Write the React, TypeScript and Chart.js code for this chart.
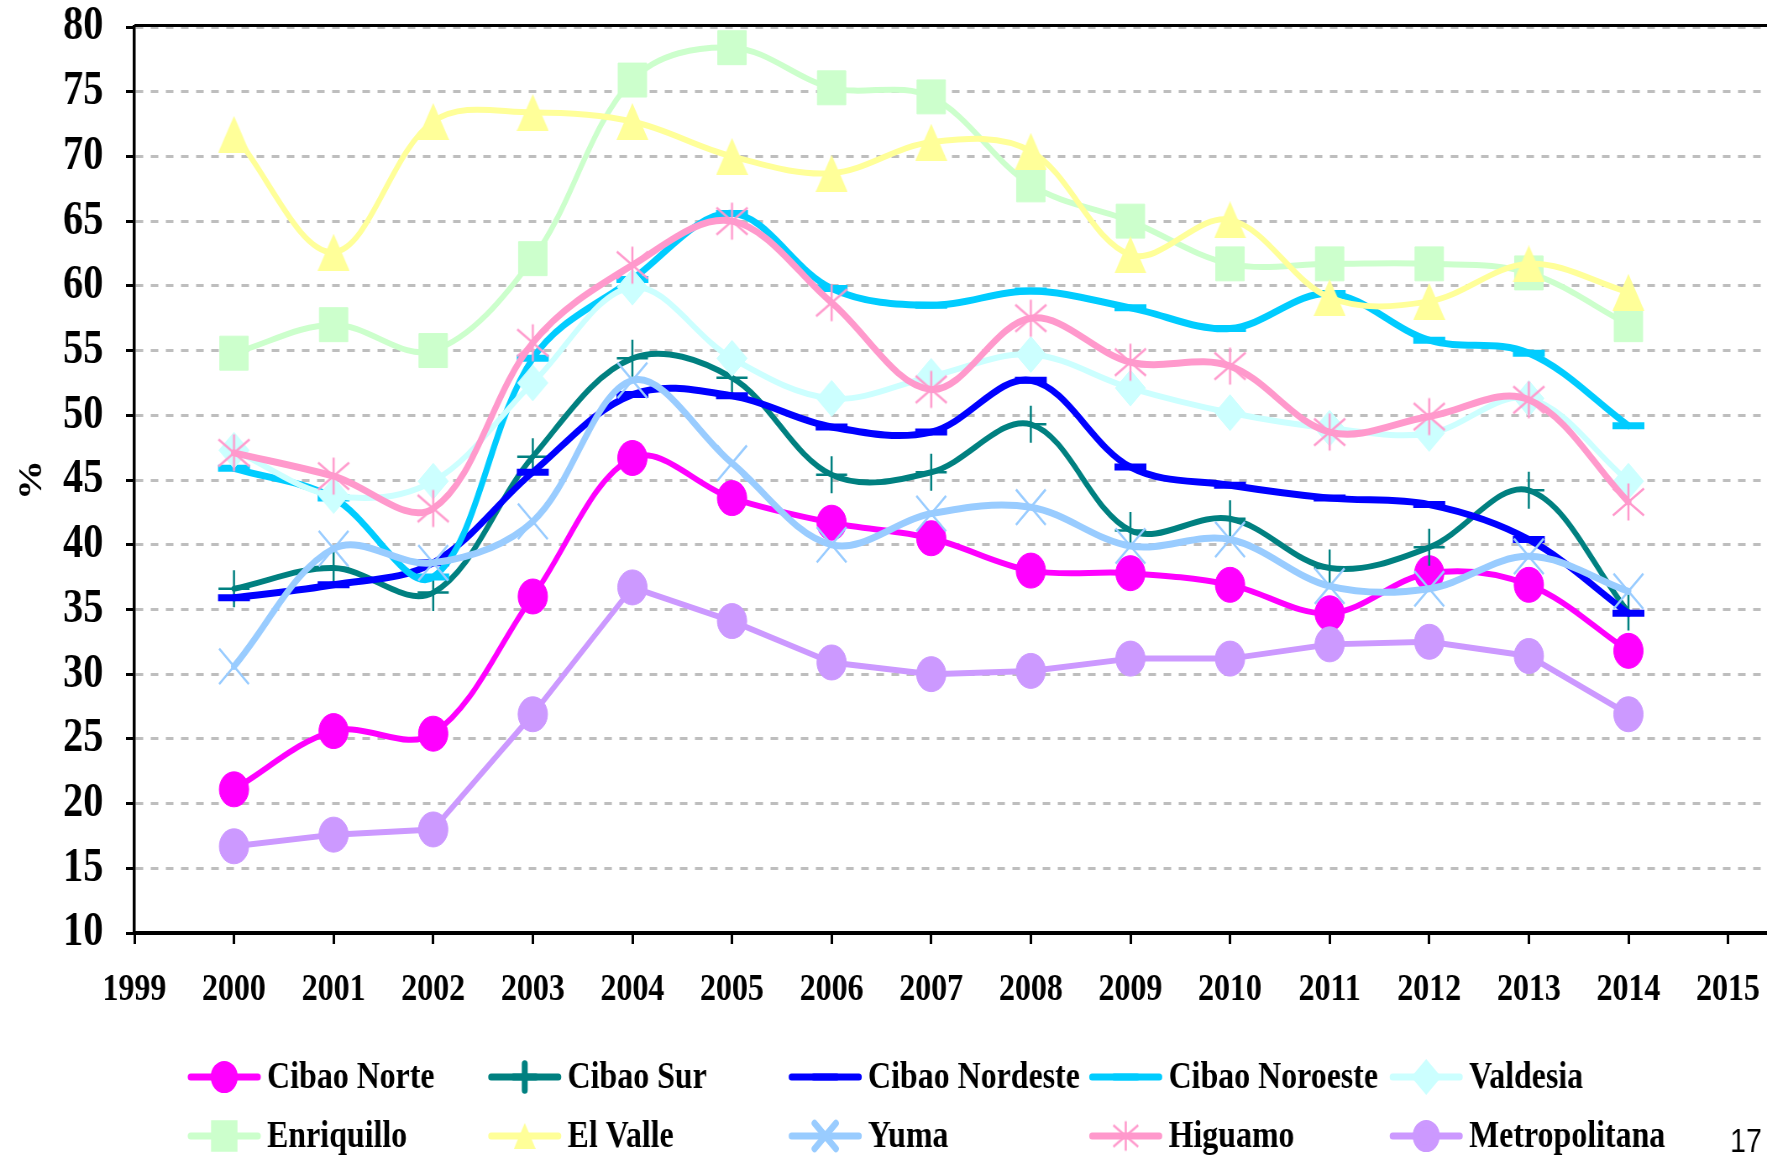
import React, { useEffect, useRef } from 'react';
import { Chart, registerables } from 'chart.js';
import { drawPoint } from 'chart.js/helpers';

Chart.register(...registerables);

// ---------------- data ----------------
const years = [2000, 2001, 2002, 2003, 2004, 2005, 2006, 2007, 2008, 2009, 2010, 2011, 2012, 2013, 2014];
const xTickValues = [1999, 2000, 2001, 2002, 2003, 2004, 2005, 2006, 2007, 2008, 2009, 2010, 2011, 2012, 2013, 2014, 2015];
const yMin = 10;
const yMax = 80;
const yStep = 5;
const yAxisTitle = '%';
const pageNumber = '17';

const seriesLabels = [
  'Cibao Norte', 'Cibao Sur', 'Cibao Nordeste', 'Cibao Noroeste', 'Valdesia',
  'Enriquillo', 'El Valle', 'Yuma', 'Higuamo', 'Metropolitana',
];

const cibaoNorte = [21.1, 25.6, 25.4, 36.0, 46.7, 43.6, 41.7, 40.5, 38.0, 37.8, 36.9, 34.7, 37.8, 36.9, 31.8];
const cibaoSur = [36.6, 38.2, 36.3, 46.8, 54.4, 52.9, 45.4, 45.6, 49.3, 41.1, 42.0, 38.2, 39.8, 44.2, 34.8];
const cibaoNordeste = [35.9, 36.9, 38.6, 45.6, 51.6, 51.5, 49.1, 48.7, 52.7, 46.0, 44.6, 43.6, 43.1, 40.4, 34.7];
const cibaoNoroeste = [45.9, 43.6, 37.5, 54.4, 60.5, 65.6, 59.8, 58.5, 59.6, 58.3, 56.7, 59.4, 55.8, 54.8, 49.2];
const valdesia = [47.3, 43.8, 44.9, 52.5, 59.9, 54.4, 51.3, 53.0, 54.7, 52.1, 50.2, 49.0, 48.6, 51.3, 44.9];
const enriquillo = [54.8, 57.0, 55.0, 62.1, 75.9, 78.4, 75.3, 74.6, 67.8, 65.0, 61.7, 61.7, 61.7, 61.0, 57.0];
const elValle = [71.7, 62.6, 72.7, 73.4, 72.7, 70.0, 68.7, 71.1, 70.4, 62.4, 65.1, 59.1, 58.8, 61.7, 59.5];
const yuma = [30.6, 39.7, 38.6, 41.8, 52.7, 46.3, 40.0, 42.4, 42.9, 39.9, 40.4, 36.8, 36.6, 39.1, 36.4];
const higuamo = [47.1, 45.3, 42.8, 55.6, 61.6, 65.0, 58.7, 52.0, 57.5, 54.1, 53.8, 48.7, 49.9, 51.2, 43.3];
const metropolitana = [16.7, 17.6, 18.0, 26.9, 36.7, 34.1, 30.9, 30.0, 30.25, 31.2, 31.2, 32.3, 32.5, 31.4, 26.9];

const seriesValues = [
  cibaoNorte, cibaoSur, cibaoNordeste, cibaoNoroeste, valdesia,
  enriquillo, elValle, yuma, higuamo, metropolitana,
];

// ---------------- styles ----------------
const OUT_W = 1767;
const CANVAS_W = 2104;
const CANVAS_H = 1156;
const SQUASH = OUT_W / CANVAS_W;
const SERIF = "'Liberation Serif', 'Times New Roman', serif";
const SANS = "'Liberation Sans', Arial, sans-serif";

type Style = { color: string; line: number; point: string; r: number; bw: number; tension: number };
const styles: Style[] = [
  { color: '#FF00FF', line: 6, point: 'circle', r: 17.5, bw: 1, tension: 0.35 },
  { color: '#008080', line: 6, point: 'cross', r: 18.5, bw: 2.5, tension: 0.35 },
  { color: '#0000FF', line: 7, point: 'line', r: 19, bw: 7, tension: 0.35 },
  { color: '#00CCFF', line: 7, point: 'line', r: 19, bw: 7, tension: 0.35 },
  { color: '#CCFFFF', line: 6, point: 'rectRot', r: 18, bw: 1, tension: 0.35 },
  { color: '#CCFFCC', line: 6, point: 'rect', r: 24, bw: 1, tension: 0.35 },
  { color: '#FFFF99', line: 6, point: 'triangleImg', r: 19, bw: 1, tension: 0.35 },
  { color: '#99CCFF', line: 7, point: 'crossRot', r: 25, bw: 2.5, tension: 0.35 },
  { color: '#FF99CC', line: 7, point: 'asterisk', r: 18, bw: 2.5, tension: 0.35 },
  { color: '#CC99FF', line: 6, point: 'circle', r: 17.5, bw: 1, tension: 0 },
];

function makeAsterisk(color: string, half: number, lw: number, scale: number) {
  const c = document.createElement('canvas');
  const h = half * scale;
  const size = Math.ceil(h * 2 + lw * 2);
  c.width = size;
  c.height = size;
  const g = c.getContext('2d')!;
  g.strokeStyle = color;
  g.lineWidth = lw;
  const cx = size / 2;
  const cy = size / 2;
  g.beginPath();
  g.moveTo(cx, cy - h); g.lineTo(cx, cy + h);
  g.moveTo(cx - h, cy - h * 0.73); g.lineTo(cx + h, cy + h * 0.73);
  g.moveTo(cx - h, cy + h * 0.73); g.lineTo(cx + h, cy - h * 0.73);
  g.stroke();
  return c;
}

function makeTriangle(color: string, w: number, h: number) {
  const c = document.createElement('canvas');
  c.width = Math.ceil(w);
  c.height = Math.ceil(h);
  const g = c.getContext('2d')!;
  g.fillStyle = color;
  g.beginPath();
  g.moveTo(w / 2, 0);
  g.lineTo(w, h);
  g.lineTo(0, h);
  g.closePath();
  g.fill();
  return c;
}

const frameAndLegendPlugin = {
  id: 'frameAndLegend',
  beforeDatasetsDraw(chart: any) {
    const { ctx, chartArea } = chart;
    ctx.save();
    ctx.strokeStyle = '#000';
    ctx.lineWidth = 3;
    ctx.beginPath();
    ctx.moveTo(chartArea.left, chartArea.top - 1.5);
    ctx.lineTo(chart.width, chartArea.top - 1.5);
    ctx.stroke();
    ctx.restore();
  },
  afterDraw(chart: any) {
    const ctx: CanvasRenderingContext2D = chart.ctx;
    const legendPts: any[] = chart.$legendPoints || [];
    chart.data.datasets.forEach((ds: any, i: number) => {
      const s = styles[i];
      const col = i % 5;
      const row = Math.floor(i / 5);
      const x0 = 223 + col * 357.8;
      const y = row === 0 ? 1077 : 1136;
      ctx.save();
      ctx.strokeStyle = s.color;
      ctx.lineWidth = 7;
      ctx.lineCap = 'round';
      ctx.beginPath();
      ctx.moveTo(x0 + 4, y);
      ctx.lineTo(x0 + 84, y);
      ctx.stroke();
      const cx = x0 + 44;
      ctx.fillStyle = s.color;
      ctx.strokeStyle = s.color;
      const lp = legendPts[i];
      if (lp && typeof lp !== 'string') {
        ctx.drawImage(lp, cx - lp.width / 2, y - lp.height / 2);
      } else {
        drawPoint(ctx, { pointStyle: ds.pointStyle, rotation: 0, radius: s.r * 0.72, borderWidth: s.bw }, cx, y);
      }
      ctx.fillStyle = '#000';
      ctx.font = `bold 38px ${SERIF}`;
      ctx.textBaseline = 'middle';
      ctx.textAlign = 'left';
      ctx.fillText(ds.label, x0 + 95, y + 1);
      ctx.restore();
    });
    ctx.save();
    ctx.fillStyle = '#000';
    ctx.font = `34px ${SANS}`;
    ctx.textBaseline = 'alphabetic';
    ctx.textAlign = 'left';
    ctx.fillText(pageNumber, 2060, 1152);
    ctx.restore();
  },
};

export default function App() {
  const canvasRef = useRef<HTMLCanvasElement | null>(null);

  useEffect(() => {
    document.body.style.margin = '0';
    const canvas = canvasRef.current;
    if (!canvas) return;

    const asterisk = makeAsterisk('#FF99CC', 18.5, 2.5, 1);
    const asteriskSmall = makeAsterisk('#FF99CC', 18.5, 2.5, 0.8);
    const triangle = makeTriangle('#FFFF99', 38, 37);
    const triangleSmall = makeTriangle('#FFFF99', 26, 26);

    const datasets = seriesLabels.map((label, i) => {
      const s = styles[i];
      const ps = s.point === 'asterisk' ? asterisk : s.point === 'triangleImg' ? triangle : s.point;
      return {
        label,
        data: years.map((yr, k) => ({ x: yr, y: seriesValues[i][k] })),
        borderColor: s.color,
        backgroundColor: s.color,
        borderWidth: s.line,
        borderJoinStyle: 'round',
        borderCapStyle: 'round',
        pointStyle: ps,
        pointRadius: s.r,
        pointHoverRadius: s.r,
        pointBorderWidth: s.bw,
        pointBackgroundColor: s.color,
        pointBorderColor: s.color,
        tension: s.tension,
        fill: false,
        order: -i,
      };
    });

    const chart = new Chart(canvas, {
      type: 'line',
      data: { datasets } as any,
      plugins: [frameAndLegendPlugin],
      options: {
        responsive: false,
        maintainAspectRatio: false,
        animation: false,
        devicePixelRatio: 1,
        events: [],
        layout: { autoPadding: false, padding: { left: 0, top: 27, right: 0, bottom: 133 } },
        plugins: { legend: { display: false }, tooltip: { enabled: false } },
        scales: {
          x: {
            type: 'linear',
            min: 1999,
            max: 1999 + (CANVAS_W - 160) / 118.6,
            afterBuildTicks: (axis: any) => {
              axis.ticks = xTickValues.map((v) => ({ value: v }));
            },
            afterFit: (axis: any) => {
              axis.height = 90;
              axis.paddingLeft = 0;
              axis.paddingRight = 0;
            },
            ticks: {
              includeBounds: false,
              stepSize: 1,
              autoSkip: false,
              maxRotation: 0,
              minRotation: 0,
              padding: 23,
              color: '#000',
              font: { family: SERIF, size: 38, weight: 'bold' },
              callback: (v: any) => String(v),
            },
            grid: {
              display: true,
              drawOnChartArea: false,
              drawTicks: true,
              tickLength: 11,
              tickColor: '#000',
              tickWidth: 3,
            },
            border: { display: true, color: '#000', width: 4 },
          },
          y: {
            type: 'linear',
            min: yMin,
            max: yMax,
            afterFit: (axis: any) => {
              axis.width = 160;
              axis.paddingTop = 0;
              axis.paddingBottom = 0;
            },
            ticks: {
              stepSize: yStep,
              padding: 27,
              color: '#000',
              font: { family: SERIF, size: 48, weight: 'bold' },
              callback: (v: any) => String(v),
            },
            grid: {
              display: true,
              color: '#BEBEBE',
              lineWidth: 3,
              drawTicks: true,
              tickLength: 10,
              tickColor: '#000',
              tickWidth: 3,
              tickBorderDash: [],
            } as any,
            border: { display: true, color: '#000', width: 3.5, dash: [9, 9] },
            title: {
              display: true,
              text: yAxisTitle,
              color: '#000',
              font: { family: SERIF, size: 40, weight: 'bold' },
              padding: { top: 15, bottom: 0 },
            },
          },
        },
      } as any,
    });
    (chart as any).$legendPoints = styles.map((s) =>
      s.point === 'asterisk' ? asteriskSmall : s.point === 'triangleImg' ? triangleSmall : s.point
    );
    chart.draw();

    return () => {
      chart.destroy();
    };
  }, []);

  return (
    <div
      style={{
        position: 'fixed',
        left: 0,
        top: 0,
        width: OUT_W,
        height: CANVAS_H,
        overflow: 'hidden',
        background: '#fff',
      }}
    >
      <canvas
        ref={canvasRef}
        width={CANVAS_W}
        height={CANVAS_H}
        style={{
          display: 'block',
          width: CANVAS_W,
          height: CANVAS_H,
          transform: `scaleX(${SQUASH})`,
          transformOrigin: '0 0',
        }}
      />
    </div>
  );
}
